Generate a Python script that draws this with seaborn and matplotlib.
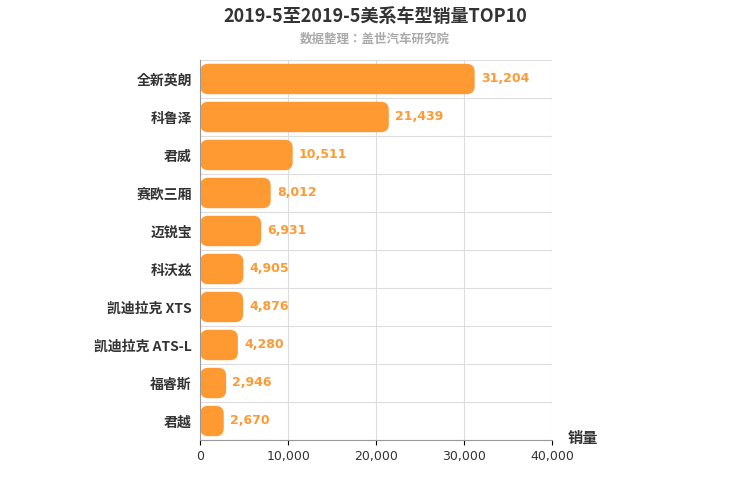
import matplotlib.pyplot as plt
import seaborn as sns
import pandas as pd
from matplotlib.patches import FancyBboxPatch
from matplotlib import font_manager as fm

# locate CJK font files directly
cands = [f for f in fm.fontManager.ttflist if 'CJK' in f.name]
def pick(bold):
    best = None
    for f in cands:
        w = f.weight if isinstance(f.weight, int) else (700 if 'bold' in str(f.weight).lower() else 400)
        score = abs(w - (700 if bold else 400)) + (0 if 'SC' in f.name else 50)
        if best is None or score < best[0]:
            best = (score, f.fname)
    return best[1]

def cjk(size, bold=False):
    return fm.FontProperties(fname=pick(bold), size=size)

models = ['全新英朗', '科鲁泽', '君威', '赛欧三厢', '迈锐宝', '科沃兹',
          '凯迪拉克 XTS', '凯迪拉克 ATS-L', '福睿斯', '君越']
sales = [31204, 21439, 10511, 8012, 6931, 4905, 4876, 4280, 2946, 2670]
xticks = [0, 10000, 20000, 30000, 40000]

df = pd.DataFrame({'model': models, 'sales': sales})
color = '#FF9A33'

fig = plt.figure(figsize=(7.5, 5), dpi=100)
ax = fig.add_axes([0.267, 0.12, 0.469, 0.76])
sns.barplot(data=df, y='model', x='sales', color=color, width=0.8, ax=ax, saturation=1)

ax.set_xlim(0, 40000)
ax.set_ylim(9.5, -0.5)
# rounded bars
aspect = (10 / 380) / (40000 / 352)
for p in list(ax.patches):
    x, y, w, h = p.get_x(), p.get_y(), p.get_width(), p.get_height()
    r = FancyBboxPatch((x, y), w, h, boxstyle='round,pad=0,rounding_size=900',
                       mutation_aspect=aspect, facecolor=color, edgecolor='none')
    p.set_visible(False)
    ax.add_patch(r)

ax.set_xticks(xticks)
ax.set_xticklabels([f'{v:,}' for v in xticks], fontsize=9, color='#333333')
ax.tick_params(axis='y', length=0, pad=6)
ax.set_yticks(range(len(models)))
ax.set_yticklabels(models, fontproperties=cjk(10, True), color='#333333')
ax.set_ylabel('')
ax.set_xlabel('')
ax.grid(axis='x', color='#dddddd', linewidth=0.8)
for yy in [i + 0.5 for i in range(-1, 10)]:
    ax.axhline(yy, color='#dddddd', linewidth=0.8, zorder=0)
ax.set_axisbelow(True)
for s in ['top', 'right']:
    ax.spines[s].set_visible(False)
ax.spines['left'].set_color('#999999')
ax.spines['bottom'].set_color('#999999')

for i, v in enumerate(sales):
    ax.text(v + 700, i, f'{v:,}', va='center', ha='left', fontsize=9,
            color=color, fontweight='bold')

fig.text(0.5, 0.968, '2019-5至2019-5美系车型销量TOP10', ha='center', va='center',
         fontproperties=cjk(13, True), color='#333333')
fig.text(0.5, 0.922, '数据整理：盖世汽车研究院', ha='center', va='center',
         fontproperties=cjk(9, True), color='#aaaaaa')
fig.text(0.777, 0.125, '销量', ha='center', va='center',
         fontproperties=cjk(11, True), color='#333333')

fig.savefig('out.png', dpi=100)
